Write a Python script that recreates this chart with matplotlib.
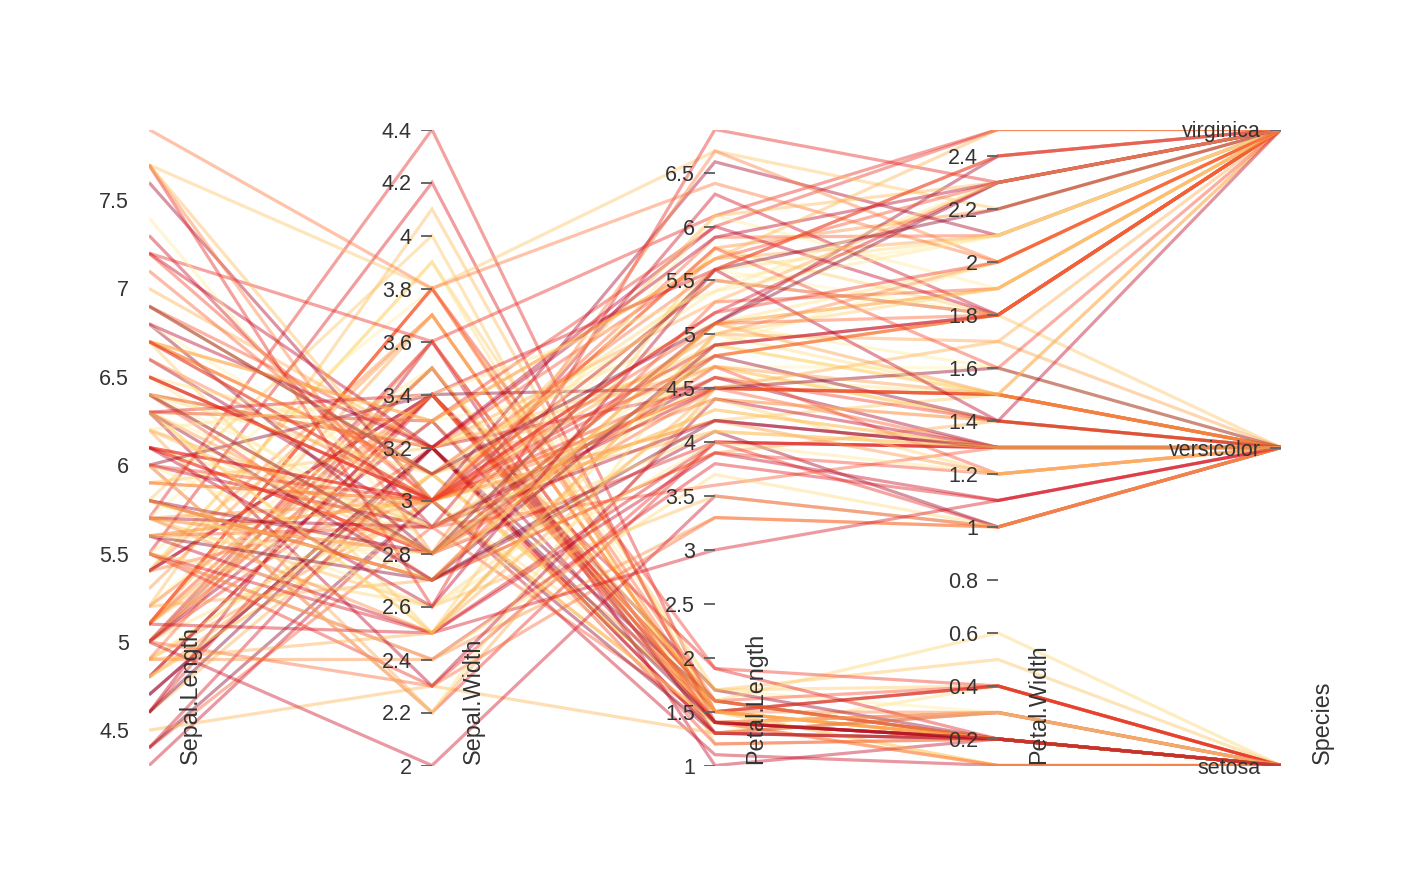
import matplotlib
matplotlib.use('Agg')
import numpy as np
import matplotlib.pyplot as plt

plt.rcParams['font.family'] = ['Liberation Sans', 'DejaVu Sans']

# iris data, one list per column
sepal_length = [5.1, 4.9, 4.7, 4.6, 5.0, 5.4, 4.6, 5.0, 4.4, 4.9, 5.4, 4.8, 4.8, 4.3, 5.8, 5.7, 5.4, 5.1, 5.7, 5.1,
                5.4, 5.1, 4.6, 5.1, 4.8, 5.0, 5.0, 5.2, 5.2, 4.7, 4.8, 5.4, 5.2, 5.5, 4.9, 5.0, 5.5, 4.9, 4.4, 5.1,
                5.0, 4.5, 4.4, 5.0, 5.1, 4.8, 5.1, 4.6, 5.3, 5.0,
                7.0, 6.4, 6.9, 5.5, 6.5, 5.7, 6.3, 4.9, 6.6, 5.2, 5.0, 5.9, 6.0, 6.1, 5.6, 6.7, 5.6, 5.8, 6.2, 5.6,
                5.9, 6.1, 6.3, 6.1, 6.4, 6.6, 6.8, 6.7, 6.0, 5.7, 5.5, 5.5, 5.8, 6.0, 5.4, 6.0, 6.7, 6.3, 5.6, 5.5,
                5.5, 6.1, 5.8, 5.0, 5.6, 5.7, 5.7, 6.2, 5.1, 5.7,
                6.3, 5.8, 7.1, 6.3, 6.5, 7.6, 4.9, 7.3, 6.7, 7.2, 6.5, 6.4, 6.8, 5.7, 5.8, 6.4, 6.5, 7.7, 7.7, 6.0,
                6.9, 5.6, 7.7, 6.3, 6.7, 7.2, 6.2, 6.1, 6.4, 7.2, 7.4, 7.9, 6.4, 6.3, 6.1, 7.7, 6.3, 6.4, 6.0, 6.9,
                6.7, 6.9, 5.8, 6.8, 6.7, 6.7, 6.3, 6.5, 6.2, 5.9]
sepal_width = [3.5, 3.0, 3.2, 3.1, 3.6, 3.9, 3.4, 3.4, 2.9, 3.1, 3.7, 3.4, 3.0, 3.0, 4.0, 4.4, 3.9, 3.5, 3.8, 3.8,
               3.4, 3.7, 3.6, 3.3, 3.4, 3.0, 3.4, 3.5, 3.4, 3.2, 3.1, 3.4, 4.1, 4.2, 3.1, 3.2, 3.5, 3.6, 3.0, 3.4,
               3.5, 2.3, 3.2, 3.5, 3.8, 3.0, 3.8, 3.2, 3.7, 3.3,
               3.2, 3.2, 3.1, 2.3, 2.8, 2.8, 3.3, 2.4, 2.9, 2.7, 2.0, 3.0, 2.2, 2.9, 2.9, 3.1, 3.0, 2.7, 2.2, 2.5,
               3.2, 2.8, 2.5, 2.8, 2.9, 3.0, 2.8, 3.0, 2.9, 2.6, 2.4, 2.4, 2.7, 2.7, 3.0, 3.4, 3.1, 2.3, 3.0, 2.5,
               2.6, 3.0, 2.6, 2.3, 2.7, 3.0, 2.9, 2.9, 2.5, 2.8,
               3.3, 2.7, 3.0, 2.9, 3.0, 3.0, 2.5, 2.9, 2.5, 3.6, 3.2, 2.7, 3.0, 2.5, 2.8, 3.2, 3.0, 3.8, 2.6, 2.2,
               3.2, 2.8, 2.8, 2.7, 3.3, 3.2, 2.8, 3.0, 2.8, 3.0, 2.8, 3.8, 2.8, 2.8, 2.6, 3.0, 3.4, 3.1, 3.0, 3.1,
               3.1, 3.1, 2.7, 3.2, 3.3, 3.0, 2.5, 3.0, 3.4, 3.0]
petal_length = [1.4, 1.4, 1.3, 1.5, 1.4, 1.7, 1.4, 1.5, 1.4, 1.5, 1.5, 1.6, 1.4, 1.1, 1.2, 1.5, 1.3, 1.4, 1.7, 1.5,
                1.7, 1.5, 1.0, 1.7, 1.9, 1.6, 1.6, 1.5, 1.4, 1.6, 1.6, 1.5, 1.5, 1.4, 1.5, 1.2, 1.3, 1.4, 1.3, 1.5,
                1.3, 1.3, 1.3, 1.6, 1.9, 1.4, 1.6, 1.4, 1.5, 1.4,
                4.7, 4.5, 4.9, 4.0, 4.6, 4.5, 4.7, 3.3, 4.6, 3.9, 3.5, 4.2, 4.0, 4.7, 3.6, 4.4, 4.5, 4.1, 4.5, 3.9,
                4.8, 4.0, 4.9, 4.7, 4.3, 4.4, 4.8, 5.0, 4.5, 3.5, 3.8, 3.7, 3.9, 5.1, 4.5, 4.5, 4.7, 4.4, 4.1, 4.0,
                4.4, 4.6, 4.0, 3.3, 4.2, 4.2, 4.2, 4.3, 3.0, 4.1,
                6.0, 5.1, 5.9, 5.6, 5.8, 6.6, 4.5, 6.3, 5.8, 6.1, 5.1, 5.3, 5.5, 5.0, 5.1, 5.3, 5.5, 6.7, 6.9, 5.0,
                5.7, 4.9, 6.7, 4.9, 5.7, 6.0, 4.8, 4.9, 5.6, 5.8, 6.1, 6.4, 5.6, 5.1, 5.6, 6.1, 5.6, 5.5, 4.8, 5.4,
                5.6, 5.1, 5.1, 5.9, 5.7, 5.2, 5.0, 5.2, 5.4, 5.1]
petal_width = [0.2, 0.2, 0.2, 0.2, 0.2, 0.4, 0.3, 0.2, 0.2, 0.1, 0.2, 0.2, 0.1, 0.1, 0.2, 0.4, 0.4, 0.3, 0.3, 0.3,
               0.2, 0.4, 0.2, 0.5, 0.2, 0.2, 0.4, 0.2, 0.2, 0.2, 0.2, 0.4, 0.1, 0.2, 0.2, 0.2, 0.2, 0.1, 0.2, 0.2,
               0.3, 0.3, 0.2, 0.6, 0.4, 0.3, 0.2, 0.2, 0.2, 0.2,
               1.4, 1.5, 1.5, 1.3, 1.5, 1.3, 1.6, 1.0, 1.3, 1.4, 1.0, 1.5, 1.0, 1.4, 1.3, 1.4, 1.5, 1.0, 1.5, 1.1,
               1.8, 1.3, 1.5, 1.2, 1.3, 1.4, 1.4, 1.7, 1.5, 1.0, 1.1, 1.0, 1.2, 1.6, 1.5, 1.6, 1.5, 1.3, 1.3, 1.3,
               1.2, 1.4, 1.2, 1.0, 1.3, 1.2, 1.3, 1.3, 1.1, 1.3,
               2.5, 1.9, 2.1, 1.8, 2.2, 2.1, 1.7, 1.8, 1.8, 2.5, 2.0, 1.9, 2.1, 2.0, 2.4, 2.3, 1.8, 2.2, 2.3, 1.5,
               2.3, 2.0, 2.0, 1.8, 2.1, 1.8, 1.8, 1.8, 2.1, 1.6, 1.9, 2.0, 2.2, 1.5, 1.4, 2.3, 2.4, 1.8, 1.8, 2.1,
               2.4, 2.3, 1.9, 2.3, 2.5, 2.3, 1.9, 2.0, 2.3, 1.8]
species = ['setosa'] * 50 + ['versicolor'] * 50 + ['virginica'] * 50

dim_names = ['Sepal.Length', 'Sepal.Width', 'Petal.Length', 'Petal.Width', 'Species']
species_levels = ['setosa', 'versicolor', 'virginica']
dim_ticks = [[4.5, 5, 5.5, 6, 6.5, 7, 7.5],
             [2, 2.2, 2.4, 2.6, 2.8, 3, 3.2, 3.4, 3.6, 3.8, 4, 4.2, 4.4],
             [1, 1.5, 2, 2.5, 3, 3.5, 4, 4.5, 5, 5.5, 6, 6.5],
             [0.2, 0.4, 0.6, 0.8, 1, 1.2, 1.4, 1.6, 1.8, 2, 2.2, 2.4]]

# scale each dimension to 0..1
sp_code = np.array([species_levels.index(s) for s in species], dtype=float)
cols = [np.array(sepal_length), np.array(sepal_width), np.array(petal_length),
        np.array(petal_width), sp_code]
scaled = []
for c in cols:
    scaled.append((c - c.min()) / (c.max() - c.min()))
scaled = np.array(scaled).T

W, H = 1426, 892
fig = plt.figure(figsize=(W / 100, H / 100), dpi=100)
ax_left, ax_right, ax_top, ax_bot = 149, 1281, 129.5, 765.5
ax = fig.add_axes([ax_left / W, (H - ax_bot) / H, (ax_right - ax_left) / W, (ax_bot - ax_top) / H])
ax.set_xlim(0, 4)
ax.set_ylim(0, 1)
ax.axis('off')

px = 4.0 / (ax_right - ax_left)   # one pixel in x data units

# line colours (style only): spread over YlOrRd in a shuffled order
cmap = plt.get_cmap('YlOrRd')
n = len(species)
shade = ((np.arange(n) * 67) % n) / (n - 1)
xs = np.arange(5)
for i in range(n):
    ax.plot(xs, scaled[i], color=cmap(0.08 + 0.92 * shade[i]), alpha=0.42,
            lw=2.3, solid_capstyle='butt', solid_joinstyle='miter', zorder=2)

tick_color = '#666666'
text_color = '#333333'

def draw_tick(x, y, label):
    ax.plot([x - 10 * px, x - 1 * px], [y, y], color=tick_color, lw=1.4, zorder=3)
    ax.text(x - 20 * px, y, label, ha='right', va='center_baseline',
            fontsize=15.5, color=text_color, zorder=4)

for j in range(4):
    c = cols[j]
    lo, hi = c.min(), c.max()
    for t in dim_ticks[j]:
        draw_tick(j, (t - lo) / (hi - lo), '%g' % t)

for k, lev in enumerate(species_levels):
    draw_tick(4, k / 2.0, lev)

for j, name in enumerate(dim_names):
    ax.text(j + 41 * px, 0.002, name, rotation=90, ha='center', va='bottom',
            fontsize=16.8, color=text_color, zorder=4)

fig.savefig('out.png', dpi=100, facecolor='white')
